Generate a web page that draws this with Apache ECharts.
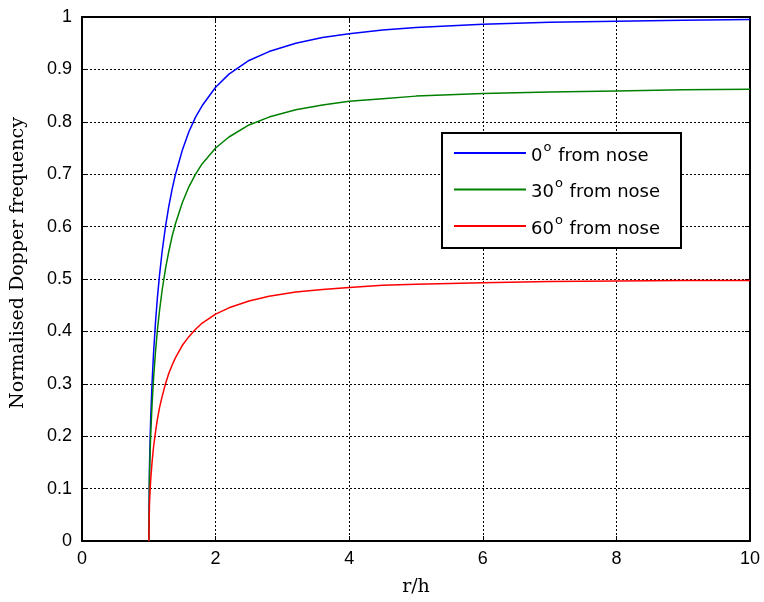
<!DOCTYPE html>
<html>
<head>
<meta charset="utf-8">
<script src="https://cdn.jsdelivr.net/npm/echarts@6/dist/echarts.min.js"></script>
<style>
  html, body { margin: 0; padding: 0; background: #fff; }
  #chart { width: 764px; height: 602px; }
</style>
</head>
<body>
<div id="chart"></div>
<script>
// Range ratio r/h sampled along each curve
const ratio = [1.0, 1.01, 1.02, 1.03, 1.05, 1.07, 1.1, 1.13, 1.16, 1.2, 1.25, 1.3, 1.35, 1.4,
  1.5, 1.6, 1.7, 1.8, 2.0, 2.2, 2.5, 2.8, 3.2, 3.6, 4.0, 4.5, 5.0, 6.0, 7.0, 8.0, 9.0, 10.0];

// Normalised Doppler frequency for each look angle
const nose0 = [0, 0.140, 0.197, 0.240, 0.305, 0.356, 0.417, 0.466, 0.507, 0.553, 0.600, 0.639, 0.672, 0.700,
  0.745, 0.781, 0.809, 0.831, 0.866, 0.891, 0.917, 0.934, 0.950, 0.961, 0.968, 0.975, 0.980, 0.986, 0.990, 0.992, 0.994, 0.995];
const nose30 = [0, 0.121, 0.171, 0.208, 0.264, 0.308, 0.361, 0.404, 0.439, 0.479, 0.520, 0.553, 0.582, 0.606,
  0.645, 0.676, 0.700, 0.720, 0.750, 0.771, 0.794, 0.809, 0.823, 0.832, 0.839, 0.844, 0.849, 0.854, 0.857, 0.859, 0.861, 0.862];
const nose60 = [0, 0.070, 0.099, 0.120, 0.152, 0.178, 0.208, 0.233, 0.254, 0.276, 0.300, 0.320, 0.336, 0.350,
  0.373, 0.390, 0.404, 0.416, 0.433, 0.445, 0.458, 0.467, 0.475, 0.480, 0.484, 0.488, 0.490, 0.493, 0.495, 0.496, 0.497, 0.497];

const seriesNames = ['0° from nose', '30° from nose', '60° from nose'];
const seriesAngles = ['0', '30', '60'];
const seriesColors = ['#0000ff', '#008000', '#ff0000'];
const seriesValues = [nose0, nose30, nose60];

const xTickLabels = ['0', '2', '4', '6', '8', '10'];
const yTickLabels = ['0', '0.1', '0.2', '0.3', '0.4', '0.5', '0.6', '0.7', '0.8', '0.9', '1'];

const sansFont = '"Liberation Sans", Arial, sans-serif';
const wideSans = '"DejaVu Sans", "Liberation Sans", sans-serif';
const serifFont = '"DejaVu Serif", "Liberation Serif", serif';

const frameLine = { show: true, onZero: false, lineStyle: { color: '#000', width: 2 } };
const innerTicks = { show: true, inside: true, length: 5, lineStyle: { color: '#000', width: 1 } };
const dottedGrid = { show: true, lineStyle: { color: '#000', width: 1, type: [2, 2] } };

function xAxisDef(pos, labelled) {
  return {
    type: 'value', position: pos, min: 0, max: 10, interval: 2,
    axisLine: frameLine, axisTick: innerTicks,
    splitLine: labelled ? dottedGrid : { show: false },
    axisLabel: labelled ? {
      show: true, color: '#000', fontFamily: sansFont, fontSize: 18, margin: 9,
      formatter: v => xTickLabels[Math.round(v / 2)]
    } : { show: false },
    name: labelled ? 'r/h' : '', nameLocation: 'middle', nameGap: 37,
    nameTextStyle: { color: '#000', fontFamily: serifFont, fontSize: 19 }
  };
}
function yAxisDef(pos, labelled) {
  return {
    type: 'value', position: pos, min: 0, max: 1, interval: 0.1,
    axisLine: frameLine, axisTick: innerTicks,
    splitLine: labelled ? dottedGrid : { show: false },
    axisLabel: labelled ? {
      show: true, color: '#000', fontFamily: sansFont, fontSize: 18, margin: 10,
      formatter: v => yTickLabels[Math.round(v * 10)]
    } : { show: false },
    name: labelled ? 'Normalised Dopper frequency' : '', nameLocation: 'middle', nameGap: 54,
    nameTextStyle: { color: '#000', fontFamily: serifFont, fontSize: 19, padding: [0, 0, 0, 32] }
  };
}

const chart = echarts.init(document.getElementById('chart'), null, { renderer: 'canvas' });
chart.setOption({
  animation: false,
  backgroundColor: '#fff',
  grid: { left: 82, right: 14, top: 17, bottom: 58, containLabel: false },
  xAxis: [xAxisDef('bottom', true), xAxisDef('top', false)],
  yAxis: [yAxisDef('left', true), yAxisDef('right', false)],
  // legend frame, drawn under the legend entries
  graphic: [{
    type: 'rect', left: 441, top: 132, z: 3,
    shape: { width: 239, height: 115 },
    style: { fill: '#fff', stroke: '#000', lineWidth: 2 }
  }],
  legend: {
    orient: 'vertical', left: 441, top: 132, z: 4,
    padding: [9, 13, 9, 13],
    itemGap: 12.5,
    itemWidth: 72, itemHeight: 2,
    icon: 'rect',
    data: seriesNames,
    formatter: name => {
      const i = seriesNames.indexOf(name);
      return '{t|' + seriesAngles[i] + '}{s|o}{t| from nose}';
    },
    textStyle: {
      color: '#000', fontFamily: wideSans, fontSize: 18,
      rich: {
        t: { fontFamily: wideSans, fontSize: 18, color: '#000', lineHeight: 24, verticalAlign: 'bottom' },
        s: { fontFamily: wideSans, fontSize: 13, color: '#000', lineHeight: 24, verticalAlign: 'top', padding: [0, 1, 0, 1] }
      }
    }
  },
  series: seriesValues.map((vals, i) => ({
    name: seriesNames[i],
    type: 'line',
    data: ratio.map((r, k) => [r, vals[k]]),
    showSymbol: false,
    symbol: 'none',
    lineStyle: { color: seriesColors[i], width: 1.5 },
    itemStyle: { color: seriesColors[i] }
  }))
});
</script>
</body>
</html>
